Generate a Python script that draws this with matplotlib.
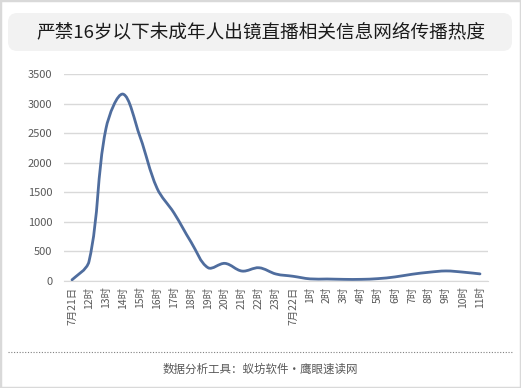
import numpy as np
import matplotlib.pyplot as plt
from matplotlib.path import Path
from matplotlib.patches import PathPatch, FancyBboxPatch, Rectangle
from matplotlib.lines import Line2D

plt.rcParams['font.family'] = ['Noto Sans CJK SC', 'DejaVu Sans']

# 数据：时间点与传播热度
labels = ['7月21日'] + [f'{h}时' for h in range(12, 24)] + ['7月22日'] + [f'{h}时' for h in range(1, 12)]
values = [20, 330, 2580, 3160, 2440, 1570, 1150, 660, 225, 298, 168, 224, 118,
          80, 36, 34, 28, 28, 40, 69, 114, 148, 170, 150, 120]

title = '严禁16岁以下未成年人出镜直播相关信息网络传播热度'
footer = '数据分析工具：蚁坊软件·鹰眼速读网'
line_color = '#4f6d9e'

fig = plt.figure(figsize=(5.21, 3.88), dpi=100)
W, H = 521, 388

# 外框
fig.patches.append(Rectangle((0, 0), 1, 1, transform=fig.transFigure,
                             fill=False, edgecolor='#d9d9d9', linewidth=2.5))

# 标题框
fig.patches.append(FancyBboxPatch((8 / W, 1 - 51 / H), 504 / W, 38 / H,
                                  boxstyle='round,pad=0,rounding_size=0.018',
                                  transform=fig.transFigure, facecolor='#f2f2f2',
                                  edgecolor='none', mutation_aspect=W / H))
fig.text(0.5, 1 - 32 / H, title, ha='center', va='center', fontsize=13.4, color='#1a1a1a')

# 绘图区
ax = fig.add_axes([63.5 / W, 1 - 281 / H, 425 / W, 207 / H])
x = np.arange(len(values), dtype=float)
y = np.array(values, dtype=float)

# 平滑曲线（按屏幕距离加权的贝塞尔平滑，近似 Excel）
sx, sy = 17.0, 207 / 3500  # 每单位对应的像素
n = len(x)


def seg_len(i, j):
    return np.hypot((x[j] - x[i]) * sx, (y[j] - y[i]) * sy)


s = 0.36
verts = [(x[0], y[0])]
codes = [Path.MOVETO]
for i in range(n - 1):
    i0, i3 = max(i - 1, 0), min(i + 2, n - 1)
    d = seg_len(i, i + 1)
    a = d / (seg_len(i0, i) + d) if i > 0 else 0.5
    b = d / (d + seg_len(i + 1, i3)) if i + 2 < n else 0.5
    c1 = (x[i] + (x[i + 1] - x[i0]) * a * s, y[i] + (y[i + 1] - y[i0]) * a * s)
    c2 = (x[i + 1] - (x[i3] - x[i]) * b * s, y[i + 1] - (y[i3] - y[i]) * b * s)
    verts += [c1, c2, (x[i + 1], y[i + 1])]
    codes += [Path.CURVE4] * 3
ax.add_patch(PathPatch(Path(verts, codes), facecolor='none', edgecolor=line_color,
                       linewidth=2.0, capstyle='round', joinstyle='round', zorder=3))

ax.set_xlim(-0.5, n - 0.5)
ax.set_ylim(0, 3500)
ax.set_yticks(np.arange(0, 3501, 500))
ax.set_xticks(x)
ax.set_xticklabels(labels, rotation=90, fontsize=7.5, color='#595959')
ax.tick_params(axis='y', labelsize=8, labelcolor='#595959', length=0, pad=8)
ax.tick_params(axis='x', length=0, pad=4)
ax.grid(axis='y', color='#d9d9d9', linewidth=1)
ax.set_axisbelow(True)
for sp in ['top', 'right', 'left']:
    ax.spines[sp].set_visible(False)
ax.spines['bottom'].set_color('#d9d9d9')

# 底部虚线与来源
fig.add_artist(Line2D([8 / W, 512 / W], [1 - 352 / H, 1 - 352 / H], transform=fig.transFigure,
                      color='#808080', linewidth=0.8, linestyle=(0, (1, 1.5))))
fig.text(0.5, 1 - 369 / H, footer, ha='center', va='center', fontsize=8.3, color='#595959')

fig.savefig('out.png', dpi=100)
